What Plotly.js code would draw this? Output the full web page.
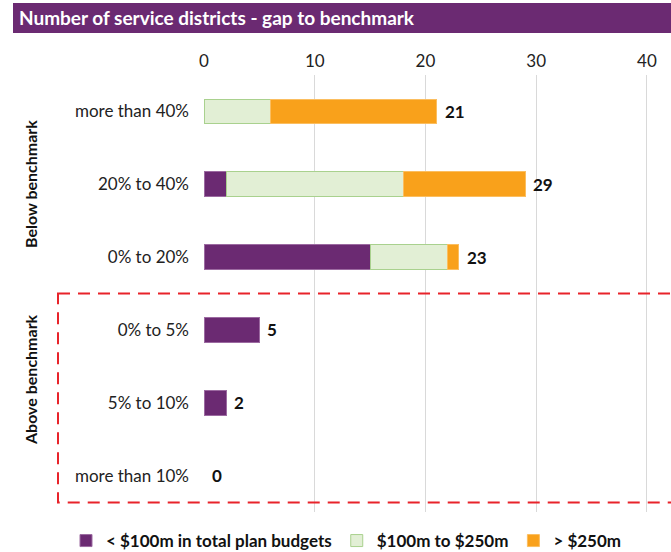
<!DOCTYPE html>
<html>
<head>
<meta charset="utf-8">
<script src="https://cdn.plot.ly/plotly-3.0.1.min.js"></script>
<style>html,body{margin:0;padding:0;background:#fff}#chart{width:671px;height:552px}</style>
</head>
<body>
<div id="chart"></div>
<script>
var categories = ["more than 40%", "20% to 40%", "0% to 20%", "0% to 5%", "5% to 10%", "more than 10%"];
var seriesNames = ["< $100m in total plan budgets", "$100m to $250m", "> $250m"];
var under100 = [0, 2, 15, 5, 2, 0];
var from100to250 = [6, 16, 7, 0, 0, 0];
var over250 = [15, 11, 1, 0, 0, 0];
var totals = [21, 29, 23, 5, 2, 0];
var xTicks = [0, 10, 20, 30, 40];
var groupLabels = ["Below benchmark", "Above benchmark"];

var FONT = "Lato, 'Open Sans', sans-serif";
var colors = ["#6B2A72", "#E2EFD5", "#F9A11B"];
var borders = ["#9C6AA1", "#A9D18E", "#FBBE60"];
var seriesData = [under100, from100to250, over250];

var traces = seriesData.map(function (vals, i) {
  return {
    type: "bar",
    orientation: "h",
    name: seriesNames[i],
    y: categories,
    x: vals.map(function (v) { return v === 0 ? null : v; }),
    marker: {color: colors[i], line: {color: borders[i], width: 1}},
    width: 0.34,
    hoverinfo: "x+name"
  };
});

var annotations = categories.map(function (c, i) {
  return {
    x: totals[i], y: c, xref: "x", yref: "y",
    text: String(totals[i]), showarrow: false,
    xanchor: "left", yanchor: "middle", xshift: 6,
    font: {family: FONT, size: 17, color: "#111", weight: "bold"}
  };
});
annotations.push({
  xref: "paper", yref: "paper", x: (30 - 204) / 467, y: (512 - 184) / 437,
  xanchor: "center", yanchor: "middle",
  text: groupLabels[0], textangle: -90, showarrow: false,
  font: {family: FONT, size: 16, color: "#111", weight: "bold"}
});
annotations.push({
  xref: "paper", yref: "paper", x: (30 - 204) / 467, y: (512 - 380) / 437,
  xanchor: "center", yanchor: "middle",
  text: groupLabels[1], textangle: -90, showarrow: false,
  font: {family: FONT, size: 16, color: "#111", weight: "bold"}
});

var layout = {
  width: 671, height: 552,
  margin: {l: 204, r: 0, t: 75, b: 40, autoexpand: false},
  paper_bgcolor: "#fff", plot_bgcolor: "#fff",
  barmode: "stack",
  font: {family: FONT, size: 17, color: "#222"},
  title: {
    text: "<b>Number of service districts - gap to benchmark</b>",
    xref: "container", yref: "container", x: 19 / 671, xanchor: "left",
    y: 1 - 18 / 552, yanchor: "middle",
    font: {family: FONT, size: 19, color: "#fff"}
  },
  xaxis: {
    side: "top", range: [0, 42.17], tickvals: xTicks,
    showgrid: true, gridcolor: "#D9D9D9", gridwidth: 1,
    zeroline: false, showline: false, ticks: "",
    ticklabelstandoff: 4,
    tickfont: {family: FONT, size: 17, color: "#222"},
    fixedrange: true, automargin: false
  },
  yaxis: {
    type: "category", categoryorder: "array", categoryarray: categories,
    autorange: "reversed", showgrid: false, zeroline: false, showline: false,
    ticks: "", ticklabelstandoff: 14,
    tickfont: {family: FONT, size: 17, color: "#222"},
    fixedrange: true, automargin: false
  },
  showlegend: true,
  legend: {
    orientation: "h", xref: "paper", yref: "paper",
    x: (66 - 204) / 467, xanchor: "left", y: (512 - 541) / 437, yanchor: "middle",
    font: {family: FONT, size: 17, color: "#111", weight: "bold"},
    traceorder: "normal", itemwidth: 30, bgcolor: "rgba(0,0,0,0)"
  },
  shapes: [
    {type: "rect", xref: "paper", yref: "paper",
     x0: (13 - 204) / 467, x1: 1.01, y0: (512 - 33) / 437, y1: (512 - 3) / 437,
     fillcolor: "#6B2A72", line: {width: 0}, layer: "below"},
    {type: "rect", xref: "paper", yref: "y",
     x0: (58 - 204) / 467, x1: 1.05, y0: 2.5, y1: 5.37,
     fillcolor: "rgba(0,0,0,0)", line: {color: "#E8232A", width: 2, dash: "12px,8px"}}
  ],
  annotations: annotations
};

Plotly.newPlot("chart", traces, layout, {displayModeBar: false, staticPlot: true});
</script>
</body>
</html>
